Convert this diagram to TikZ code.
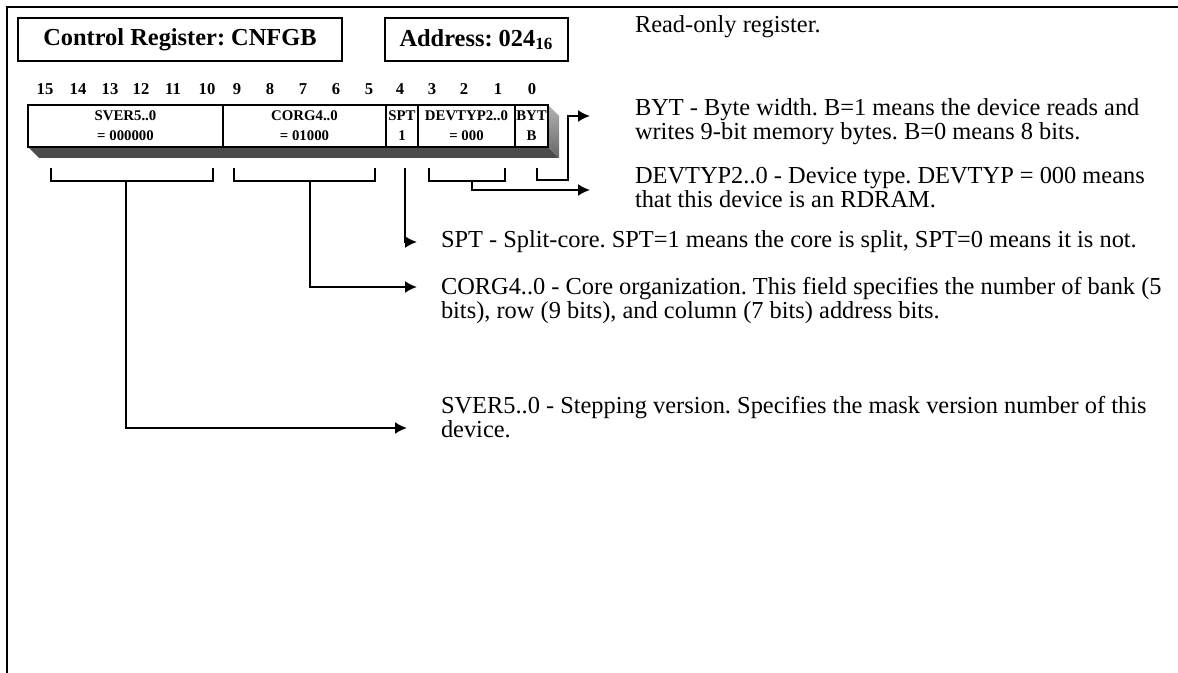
\documentclass[tikz,border=0pt]{standalone}
\usepackage{fontspec}
\setmainfont{Liberation Serif}
\usetikzlibrary{arrows.meta,positioning}
\frenchspacing

\begin{document}
\begin{tikzpicture}[
    x=0.5pt, y=-0.5pt,
    >={Latex[length=6pt,width=6pt]},
    line width=1pt,
    titlebox/.style={
        draw,
        minimum height=21.5pt,
        inner sep=0pt,
        font=\bfseries\fontsize{12.2}{14}\selectfont
    },
    bitnum/.style={
        anchor=base,
        inner sep=0pt,
        font=\bfseries\fontsize{8.3}{10}\selectfont
    },
    field/.style={
        draw,
        fill=white,
        minimum height=21pt,
        inner sep=0pt,
        align=center,
        font=\bfseries\fontsize{7.4}{10}\selectfont
    },
    desc/.style={
        anchor=north west,
        inner sep=0pt,
        align=left,
        font=\fontsize{12.2}{12}\selectfont
    },
    brk/.style={line width=1pt},
    arr/.style={->, line width=1pt}
]
\useasboundingbox (0,0) rectangle (1178,673);

% frame
\draw (1178,7) -- (7,7) -- (7,673);

% heading
\node[titlebox, minimum width=162pt] (title) at (180,39.5) {Control Register: CNFGB\hspace{6pt}};
\node[titlebox, minimum width=91.5pt] (addr) at (476.5,39.5) {Address: 024\textsubscript{16}};

% bit numbers
\node[bitnum] (b15) at (45,95) {15};
\node[bitnum] (b14) at (78,95) {14};
\node[bitnum] (b13) at (110,95) {13};
\node[bitnum] (b12) at (141,95) {12};
\node[bitnum] (b11) at (173,95) {11};
\node[bitnum] (b10) at (207,95) {10};
\node[bitnum] (b9) at (237,95) {9};
\node[bitnum] (b8) at (270,95) {8};
\node[bitnum] (b7) at (303,95) {7};
\node[bitnum] (b6) at (336,95) {6};
\node[bitnum] (b5) at (369,95) {5};
\node[bitnum] (b4) at (400,95) {4};
\node[bitnum] (b3) at (432,95) {3};
\node[bitnum] (b2) at (464,95) {2};
\node[bitnum] (b1) at (498,95) {1};
\node[bitnum] (b0) at (532,95) {0};

% register with its shadow
\fill[black!70] (28,147) -- (548,147) -- (559,158) -- (39,158) -- cycle;
\shade[top color=black!30, bottom color=black!60] (548,105) -- (559,116) -- (559,158) -- (548,147) -- cycle;

\node[field, minimum width=97.5pt] (sver) at (125.5,126) {SVER5..0\\= 000000};
\node[field, minimum width=81.5pt] (corg) at (304.5,126) {CORG4..0\\= 01000};
\node[field, minimum width=16pt] (spt) at (402,126) {SPT\\1};
\node[field, minimum width=48.5pt] (devtyp) at (466.5,126) {DEVTYP2..0\\= 000};
\node[field, minimum width=16.5pt] (byt) at (531.5,126) {BYT\\B};

% brackets under the fields
\draw[brk] (51,168) |- (213,181) -- (213,168);
\draw[brk] (234,168) |- (375,181) -- (375,168);
\draw[brk] (429,168) |- (505,181) -- (505,168);

% descriptions
\node[desc, anchor=base west] (readonly) at (634,33) {Read-only register.};
\node[desc] (bytdesc) at (634,98)
{BYT - Byte width. B=1 means the device reads and\\
writes 9-bit memory bytes. B=0 means 8 bits.};
\node[desc] (devdesc) at (634,166)
{DEVTYP2..0 - Device type. DEVTYP = 000 means\\
that this device is an RDRAM.};
\node[desc, anchor=base west] (sptdesc) at (440,248)
{SPT - Split-core. SPT=1 means the core is split, SPT=0 means it is not.};
\node[desc] (corgdesc) at (440,276)
{CORG4..0 - Core organization. This field specifies the number of bank (5\\
bits), row (9 bits), and column (7 bits) address bits.};
\node[desc] (sverdesc) at (440,395)
{SVER5..0 - Stepping version. Specifies the mask version number of this\\
device.};

% connectors
\coordinate (sverstem) at (126,181);
\coordinate (corgstem) at (310,181);
\coordinate (sptstem) at (405,168);
\coordinate (devstem) at (472,181);
\coordinate (bytstem) at (537,168);
\coordinate (bytbend) at (568,180);
\coordinate (sverto) at (407,428);
\coordinate (corgto) at (417,287);
\coordinate (sptto) at (417,242);
\coordinate (devto) at (590,190);
\coordinate (bytto) at (590,116);

\draw[arr] (bytstem) |- (bytbend) |- (bytto);
\draw[arr] (devstem) |- (devto);
\draw[arr] (sptstem) |- (sptto);
\draw[arr] (corgstem) |- (corgto);
\draw[arr] (sverstem) |- (sverto);

\end{tikzpicture}
\end{document}
